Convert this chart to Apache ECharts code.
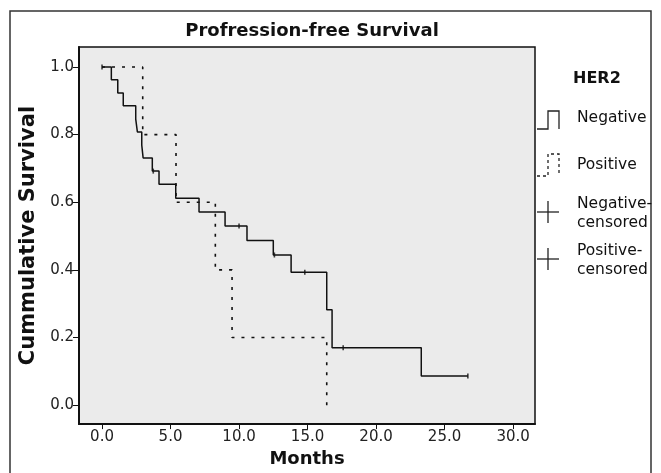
<!DOCTYPE html>
<html>
<head>
<meta charset="utf-8">
<script src="https://cdn.jsdelivr.net/npm/echarts@6/dist/echarts.min.js"></script>
<style>
html,body{margin:0;padding:0;background:#fff;}
#chart{width:661px;height:473px;}
</style>
</head>
<body>
<div id="chart"></div>
<script>
// ---- data ----
const negTime = [0, 0.68, 1.15, 1.55, 2.46, 2.58, 2.9, 3.0, 3.67, 4.16, 5.38, 7.08, 8.98, 10.58, 12.5, 13.8, 16.4, 16.79, 23.3, 26.7];
const negSurv = [1.0, 0.962, 0.923, 0.885, 0.846, 0.808, 0.769, 0.731, 0.692, 0.653, 0.612, 0.571, 0.530, 0.487, 0.444, 0.393, 0.282, 0.170, 0.086, 0.086];
const negCensTime = [0, 3.74, 10.0, 12.58, 14.8, 17.6, 26.7];
const negCensSurv = [1.0, 0.692, 0.530, 0.444, 0.393, 0.170, 0.086];
const posTime = [0, 2.97, 5.4, 8.27, 9.49, 16.4];
const posSurv = [1.0, 0.8, 0.6, 0.4, 0.2, 0.0];
const xTicks = [0, 5, 10, 15, 20, 25, 30];
const yTicks = [0, 0.2, 0.4, 0.6, 0.8, 1.0];
const legendLabels = ['Negative', 'Positive', 'Negative-\ncensored', 'Positive-\ncensored'];
const titleText = 'Profression-free Survival';
const xName = 'Months';
const yName = 'Cummulative Survival';
const legendTitle = 'HER2';

const FONT = 'DejaVu Sans';
const zip = (a, b) => a.map((v, i) => [v, b[i]]);

const chart = echarts.init(document.getElementById('chart'), null, {renderer: 'canvas'});

const LX = 537;
const LF = '15.5px "' + FONT + '"';
const legendGraphics = [
  {type: 'rect', shape: {x: 10, y: 11, width: 641, height: 475}, style: {fill: 'none', stroke: '#333', lineWidth: 1.5}, silent: true, z: 0},
  {type: 'text', left: 573, top: 71, style: {text: legendTitle, font: 'bold 16px "' + FONT + '"', fill: '#111'}},
  {type: 'polyline', shape: {points: [[LX, 129], [548, 129], [548, 111], [559, 111], [559, 129]]}, style: {stroke: '#222', lineWidth: 1.3, fill: 'none'}},
  {type: 'text', left: 577, top: 110, style: {text: legendLabels[0], font: LF, fill: '#111'}},
  {type: 'polyline', shape: {points: [[LX, 176], [548, 176], [548, 154], [559, 154], [559, 176]]}, style: {stroke: '#222', lineWidth: 1.3, fill: 'none', lineDash: [3, 3]}},
  {type: 'text', left: 577, top: 157, style: {text: legendLabels[1], font: LF, fill: '#111'}},
  {type: 'line', shape: {x1: LX, y1: 212, x2: 559, y2: 212}, style: {stroke: '#222', lineWidth: 1.3}},
  {type: 'line', shape: {x1: 548, y1: 201, x2: 548, y2: 223}, style: {stroke: '#222', lineWidth: 1.3}},
  {type: 'text', left: 577, top: 194, style: {text: legendLabels[2], font: LF, fill: '#111', lineHeight: 19}},
  {type: 'line', shape: {x1: LX, y1: 259, x2: 559, y2: 259}, style: {stroke: '#222', lineWidth: 1.3}},
  {type: 'line', shape: {x1: 548, y1: 248, x2: 548, y2: 270}, style: {stroke: '#222', lineWidth: 1.3}},
  {type: 'text', left: 577, top: 241, style: {text: legendLabels[3], font: LF, fill: '#111', lineHeight: 19}}
];

const option = {
  backgroundColor: '#fff',
  animation: false,
  title: {
    text: titleText,
    left: 307,
    top: 17,
    textAlign: 'center',
    textStyle: {fontFamily: FONT, fontWeight: 'bold', fontSize: 18, color: '#111'}
  },
  grid: {
    left: 79, top: 47, width: 456, height: 379,
    show: true, backgroundColor: '#ebebeb', borderColor: '#111', borderWidth: 1.5,
    containLabel: false
  },
  xAxis: {
    type: 'value', min: -1.68, max: 31.6,
    name: xName, nameLocation: 'middle', nameGap: 24,
    nameTextStyle: {fontFamily: FONT, fontWeight: 'bold', fontSize: 18, color: '#111'},
    axisLine: {show: true, onZero: false, lineStyle: {color: '#111', width: 2}},
    axisTick: {show: true, length: 5, customValues: xTicks, lineStyle: {color: '#111'}},
    axisLabel: {customValues: xTicks, formatter: v => v.toFixed(1), fontFamily: FONT, fontSize: 15, color: '#222', margin: 6},
    splitLine: {show: false}
  },
  yAxis: {
    type: 'value', min: -0.056, max: 1.059,
    name: yName, nameLocation: 'middle', nameGap: 36, nameRotate: 90,
    nameTextStyle: {fontFamily: FONT, fontWeight: 'bold', fontSize: 21, color: '#111'},
    axisLine: {show: true, onZero: false, lineStyle: {color: '#111', width: 2}},
    axisTick: {show: true, length: 6, customValues: yTicks, lineStyle: {color: '#111'}},
    axisLabel: {customValues: yTicks, formatter: v => v.toFixed(1), fontFamily: FONT, fontSize: 15, color: '#222', margin: 5},
    splitLine: {show: false}
  },
  series: [
    {
      name: 'Positive', type: 'line', step: 'end', data: zip(posTime, posSurv),
      showSymbol: false, lineStyle: {color: '#111', width: 1.6, type: [3, 7]}, z: 2
    },
    {
      name: 'Negative', type: 'line', step: 'end', data: zip(negTime, negSurv),
      showSymbol: false, lineStyle: {color: '#111', width: 1.5}, z: 3
    },
    {
      name: 'Negative-censored', type: 'scatter', data: zip(negCensTime, negCensSurv),
      symbol: 'rect', symbolSize: [1.6, 5], itemStyle: {color: '#111'}, z: 4
    }
  ],
  graphic: legendGraphics
};
chart.setOption(option);
</script>
</body>
</html>
